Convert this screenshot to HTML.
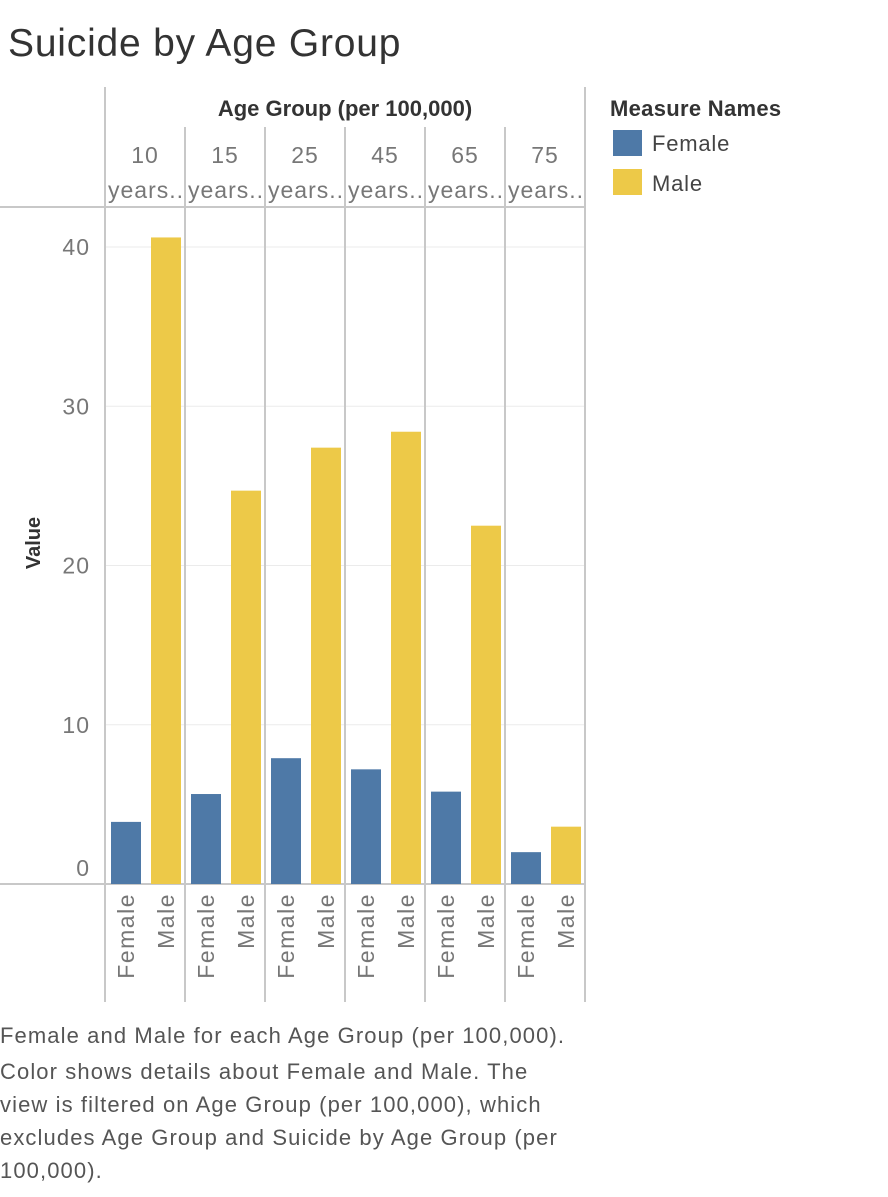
<!DOCTYPE html>
<html><head><meta charset="utf-8"><style>
body{margin:0;background:#fff;width:888px;height:1192px;overflow:hidden;font-family:"Liberation Sans","DejaVu Sans",sans-serif;}
</style></head><body>
<svg id="chart" width="888" height="1192" xmlns="http://www.w3.org/2000/svg">
<text x="8" y="56" font-size="39" fill="#333" letter-spacing="0.8">Suicide by Age Group</text>
<text x="345" y="116" font-size="22" fill="#333" font-weight="bold" text-anchor="middle">Age Group (per 100,000)</text>
<text x="610" y="116" font-size="22" fill="#333" font-weight="bold" letter-spacing="0.3">Measure Names</text>
<rect x="613" y="130" width="29" height="26" fill="#4e79a7"/>
<text x="652" y="151" font-size="22" fill="#444" letter-spacing="0.8">Female</text>
<rect x="613" y="169" width="29" height="26" fill="#edc948"/>
<text x="652" y="191" font-size="22" fill="#444" letter-spacing="0.8">Male</text>
<text transform="translate(40,543) rotate(-90)" font-size="20" font-weight="bold" fill="#333" text-anchor="middle">Value</text>
<g id="plot"></g>
<text font-size="22" fill="#555" letter-spacing="1.1">
<tspan x="0" y="1043">Female and Male for each Age Group (per 100,000).</tspan>
<tspan x="0" y="1079">Color shows details about Female and Male. The</tspan>
<tspan x="0" y="1112">view is filtered on Age Group (per 100,000), which</tspan>
<tspan x="0" y="1145">excludes Age Group and Suicide by Age Group (per</tspan>
<tspan x="0" y="1178">100,000).</tspan>
</text>
</svg>
<script>
const categories=["10","15","25","45","65","75"];
const femaleValues=[3.9,5.65,7.9,7.2,5.8,2.0];
const maleValues=[40.6,24.7,27.4,28.4,22.5,3.6];
const yTicks=[0,10,20,30,40];
const NS="http://www.w3.org/2000/svg";
const g=document.getElementById("plot");
const x0=105,colW=80,y0=884,pxPer=15.925;
const y=v=>y0-v*pxPer;
const colX=i=>x0+i*colW;
function mk(t,a){const e=document.createElementNS(NS,t);for(const k in a)e.setAttribute(k,a[k]);g.appendChild(e);return e;}
yTicks.forEach(t=>{
  if(t>0){const l=mk("line",{x1:105,x2:585,y1:y(t),y2:y(t),stroke:"#ebebeb","stroke-width":1});
  
  }
  const tx=mk("text",{x:90,y:y(t)+(t===0?-8:8),"font-size":23,fill:"#777","text-anchor":"end","letter-spacing":1});
  tx.textContent=t;
  
  
});
[[0,207,585,207],[0,884,585,884],[105,87,105,1002],[585,87,585,1002]].forEach(c=>{
  const l=mk("line",{x1:c[0],y1:c[1],x2:c[2],y2:c[3],stroke:"#c8c8c8","stroke-width":2});
  
  
});
categories.forEach((c,i)=>{
  if(i>0){const l=mk("line",{x1:colX(i),x2:colX(i),y1:127,y2:1002,stroke:"#c8c8c8","stroke-width":2});
  
  }
  const cx=colX(i)+40;
  const t1=mk("text",{x:cx,y:163,"font-size":23,fill:"#777","text-anchor":"middle","letter-spacing":1});t1.textContent=c;
  
  
  const t2=mk("text",{x:cx+1,y:198,"font-size":23,fill:"#777","text-anchor":"middle","letter-spacing":1});t2.textContent="years..";
  
  
  const bf=mk("rect",{x:colX(i)+6,y:y(femaleValues[i]),width:30,height:femaleValues[i]*pxPer,fill:"#4e79a7"});
  
  
  const bm=mk("rect",{x:colX(i)+46,y:y(maleValues[i]),width:30,height:maleValues[i]*pxPer,fill:"#edc948"});
  
  
  [["Female",colX(i)+21],["Male",colX(i)+61]].forEach(([lab,lx])=>{
    const t=mk("text",{transform:`translate(${lx+8},893) rotate(-90)`,"font-size":23,fill:"#777","text-anchor":"end","letter-spacing":1.5});
    t.textContent=lab;
    
    
  });
});
</script>
</body></html>
